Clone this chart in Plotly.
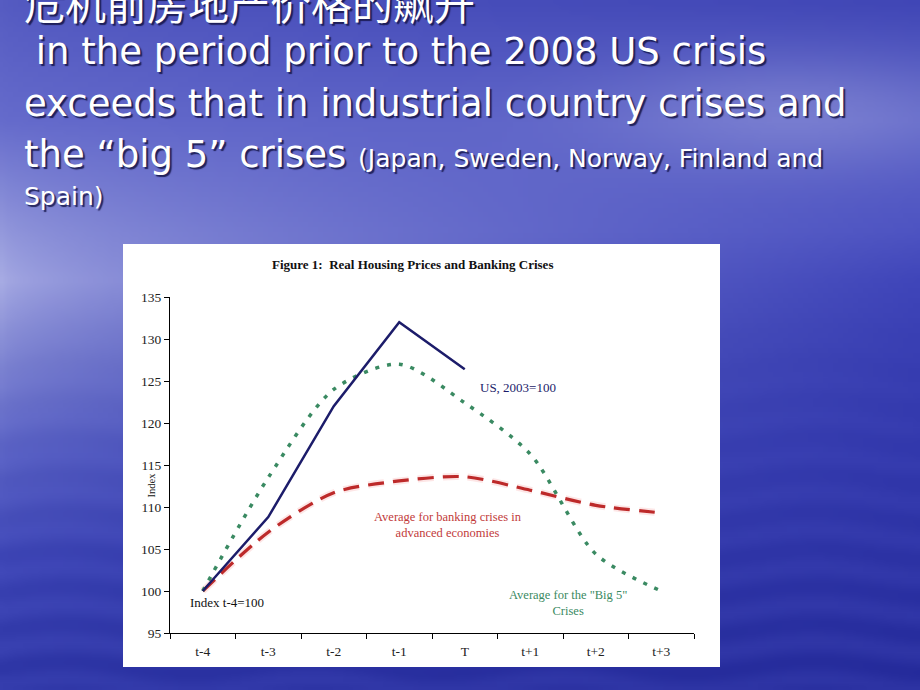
import base64, struct, zlib
import numpy as np
import plotly.graph_objects as go

# ---------------- data ----------------
periods = ["t-4", "t-3", "t-2", "t-1", "T", "t+1", "t+2", "t+3"]
us_values = [100, 108.8, 122.0, 132.0, 126.4]            # US, 2003=100 (t-4 .. T)
big5_values = [100, 113.5, 124.0, 127.0, 122.4, 116.3, 104.4, 100.0]
adv_values = [100, 107.0, 111.7, 113.1, 113.6, 112.0, 110.2, 109.3]
y_ticks = [95, 100, 105, 110, 115, 120, 125, 130, 135]

# ---------------- geometry helpers ----------------
W, H = 920, 690
L, R, T, B = 170, 694, 297, 633


def px(x):
    return (x - L) / (R - L)


def py(y):
    return (B - y) / (B - T)


# ---------------- background picture (slide) ----------------
def make_bg(w=184, h=138):
    ys = np.linspace(0, H, h)
    xs = np.linspace(0, W, w)
    stops = [0, 120, 230, 280, 350, 450, 560, 690]
    left = np.array([(86, 92, 194), (102, 108, 204), (148, 153, 220), (168, 172, 228),
                     (132, 138, 212), (90, 98, 196), (60, 68, 180), (44, 52, 164)], float)
    right = np.array([(64, 70, 182), (90, 96, 198), (78, 84, 194), (64, 70, 186),
                      (56, 62, 178), (50, 56, 172), (44, 50, 164), (36, 42, 154)], float)
    lc = np.stack([np.interp(ys, stops, left[:, k]) for k in range(3)], axis=1)
    rc = np.stack([np.interp(ys, stops, right[:, k]) for k in range(3)], axis=1)
    wx = (xs / W) ** 0.6
    img = lc[:, None, :] * (1 - wx[None, :, None]) + rc[:, None, :] * wx[None, :, None]
    yy, xx = np.meshgrid(ys, xs, indexing="ij")
    cloud = np.exp(-(((yy - 110) / 60) ** 2) - (((xx - 800) / 200) ** 2)) * 0.3
    img = img + (255 - img) * cloud[..., None] * 0.6
    ripple = (np.sin(yy / 6.0 + np.sin(xx / 40.0)) * 0.5 + 0.5) * np.clip((yy - 300) / 400, 0, 1) * 10
    img = img + ripple[..., None]
    return np.clip(img, 0, 255).astype(np.uint8)


def png_uri(arr):
    h, w, _ = arr.shape
    raw = b"".join(b"\x00" + arr[i].tobytes() for i in range(h))

    def chunk(tag, data):
        c = struct.pack(">I", len(data)) + tag + data
        return c + struct.pack(">I", zlib.crc32(tag + data) & 0xFFFFFFFF)

    png = b"\x89PNG\r\n\x1a\n" + chunk(b"IHDR", struct.pack(">IIBBBBB", w, h, 8, 2, 0, 0, 0)) \
        + chunk(b"IDAT", zlib.compress(raw, 9)) + chunk(b"IEND", b"")
    return "data:image/png;base64," + base64.b64encode(png).decode()


# ---------------- figure ----------------
NAVY = "#1c1c6a"
GREEN = "#3a8a62"
RED = "#bd2a2a"
SERIF = "Liberation Serif"

fig = go.Figure()
fig.add_trace(go.Scatter(x=periods, y=adv_values, mode="lines", hoverinfo="skip",
                         line=dict(color="rgba(245,140,140,0.22)", width=7, dash="16px,9px",
                                   shape="spline", smoothing=0.8), showlegend=False))
fig.add_trace(go.Scatter(x=periods, y=adv_values, mode="lines",
                         line=dict(color=RED, width=3.2, dash="16px,9px", shape="spline", smoothing=0.8),
                         name="Average for banking crises in advanced economies", showlegend=False))
fig.add_trace(go.Scatter(x=periods, y=big5_values, mode="lines",
                         line=dict(color=GREEN, width=3.5, dash="4px,8px", shape="spline", smoothing=0.8),
                         name='Average for the "Big 5" Crises', showlegend=False))
fig.add_trace(go.Scatter(x=periods[:len(us_values)], y=us_values, mode="lines",
                         line=dict(color=NAVY, width=2.5), name="US, 2003=100", showlegend=False))

fig.add_layout_image(dict(source=png_uri(make_bg()), xref="paper", yref="paper",
                          x=px(0), y=py(0), sizex=px(W) - px(0), sizey=py(0) - py(H),
                          xanchor="left", yanchor="top", sizing="stretch", layer="below"))

fig.add_shape(type="rect", xref="paper", yref="paper", x0=px(123), x1=px(720), y0=py(667), y1=py(244),
              fillcolor="white", line=dict(width=0), layer="below")

shadow = "2px 2px 1px rgba(20,20,70,0.85)"
slide_font = dict(family="DejaVu Sans", size=37, color="white", shadow=shadow)
title_lines = [
    ("危机前房地产价格的飙升", 22, 2, dict(family="Noto Sans CJK SC", size=41, color="white", shadow=shadow)),
    (" in the period prior to the 2008 US crisis", 22, 52, slide_font),
    ("exceeds that in industrial country crises and", 22, 103, slide_font),
    ("the “big 5” crises <span style='font-size:25px'>(Japan, Sweden, Norway, Finland and</span>", 22, 155, slide_font),
    ("Spain)", 22, 196, dict(family="DejaVu Sans", size=25, color="white", shadow=shadow)),
]
for txt, x, y, f in title_lines:
    fig.add_annotation(text=txt, xref="paper", yref="paper", x=px(x), y=py(y),
                       xanchor="left", yanchor="middle", showarrow=False, font=f)

chart_notes = [
    ("<b>Figure 1:  Real Housing Prices and Banking Crises</b>", 412, 264, "#111111", 13),
    ("US, 2003=100", 518, 387, NAVY, 13),
    ("Average for banking crises in<br>advanced economies", 448, 525, "#c23a3a", 12.5),
    ('Average for the "Big 5"<br>Crises', 568, 603, GREEN, 12.5),
    ("Index t-4=100", 227, 602, "#111111", 13),
]
for txt, x, y, c, s in chart_notes:
    fig.add_annotation(text=txt, xref="paper", yref="paper", x=px(x), y=py(y),
                       xanchor="center", yanchor="middle", showarrow=False,
                       font=dict(family=SERIF, size=s, color=c))
fig.add_annotation(text="Index", xref="paper", yref="paper", x=px(143), y=py(485), textangle=-90,
                   showarrow=False, font=dict(family=SERIF, size=10.5, color="#111111"))

fig.update_layout(
    width=W, height=H,
    margin=dict(l=L, r=W - R, t=T, b=H - B, pad=0),
    paper_bgcolor="#4a52b8", plot_bgcolor="rgba(0,0,0,0)",
    showlegend=False,
    xaxis=dict(type="category", categoryorder="array", categoryarray=periods, range=[-0.5, 7.5],
               tickson="boundaries", ticks="outside", ticklen=5, tickcolor="black",
               showline=True, linecolor="black", linewidth=1, showgrid=False, zeroline=False,
               tickfont=dict(family=SERIF, size=13.5, color="#222222"), ticklabelstandoff=6),
    yaxis=dict(range=[95, 135], tickvals=y_ticks, ticks="outside", ticklen=5, tickcolor="black",
               showline=True, linecolor="black", linewidth=1, showgrid=False, zeroline=False,
               tickfont=dict(family=SERIF, size=13.5, color="#222222")),
)

fig.write_html("out.html", config={"displayModeBar": False},
               post_script="document.body.style.margin='0';document.body.style.padding='0';"
                           "document.documentElement.style.overflow='hidden';")
